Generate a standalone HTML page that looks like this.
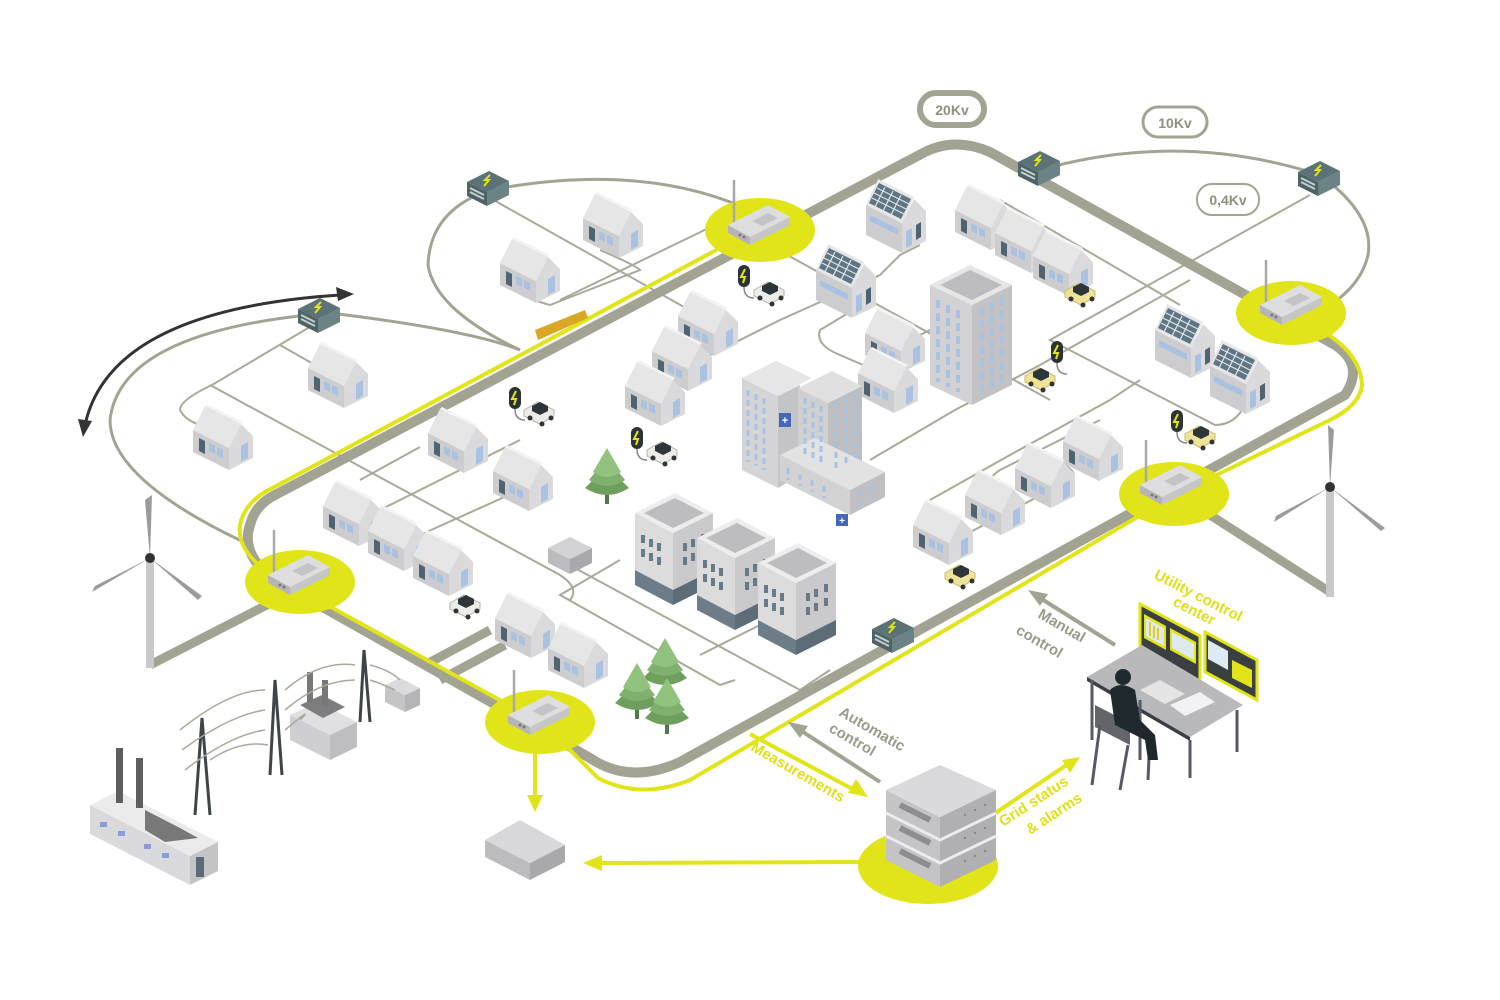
<!DOCTYPE html>
<html><head><meta charset="utf-8"><style>
html,body{margin:0;padding:0;background:#fff;}
svg{display:block;font-family:"Liberation Sans",sans-serif;}
</style></head><body>
<svg width="1500" height="1000" viewBox="0 0 1500 1000" xmlns="http://www.w3.org/2000/svg">
<defs>
<symbol id="house" overflow="visible">
 <polygon points="0,28 36,46 36,68 0,50" fill="#cdcdcf"/>
 <polygon points="36,46 48,22 60,34 60,56 36,68" fill="#dadadc"/>
 <polygon points="0,28 12,4 48,22 36,46" fill="#e6e6e7"/>
 <polygon points="48,22 12,4 14,2 50,20" fill="#f3f3f3"/>
 <polygon points="6,36 12,39 12,52 6,49" fill="#4f6470"/>
 <polygon points="16,41 22,44 22,52 16,49" fill="#a9c2e2"/>
 <polygon points="24,45 30,48 30,56 24,53" fill="#a9c2e2"/>
 <polygon points="48,44 55,40 55,56 48,60" fill="#a9c2e2"/>
</symbol>
<symbol id="solar" overflow="visible">
 <polygon points="0,30 36,48 36,78 0,60" fill="#cdcdcf"/>
 <polygon points="36,48 48,24 60,36 60,66 36,78" fill="#dadadc"/>
 <polygon points="0,30 12,4 48,22 36,48" fill="#e6e6e7"/>
 <polygon points="3,28 13,8 45,24 35,44" fill="#5f7583"/>
 <path d="M8,18 L40,34 M6,23 L38,39 M11,13 L43,29 M19,12 L9,32 M27,16 L17,36 M35,20 L25,40" stroke="#dfe6ea" stroke-width="1.2"/>
 <polygon points="4,40 32,54 32,60 4,46" fill="#a9c2e2"/>
 <polygon points="40,56 46,53 46,70 40,73" fill="#a9c2e2"/>
 <polygon points="50,50 55,47 55,62 50,65" fill="#4f6470"/>
</symbol>
<symbol id="router" overflow="visible">
 <line x1="-24" y1="0" x2="-24" y2="-45" stroke="#a8a8a8" stroke-width="2.5"/>
 <polygon points="-30,0 -8,12 -8,20 -30,8" fill="#b5b5b7"/>
 <polygon points="-8,12 32,-8 32,0 -8,20" fill="#c6c6c8"/>
 <polygon points="-30,0 10,-20 32,-8 -8,12" fill="#dedee0"/>
 <polygon points="-6,-4 10,-12 20,-7 4,1" fill="#c4c4c6"/>
 <circle cx="-18" cy="10" r="1.5" fill="#777"/><circle cx="-14" cy="12" r="1.5" fill="#777"/>
</symbol>
<symbol id="trans" overflow="visible">
 <polygon points="-20,-6 0,4 0,18 -20,8" fill="#4d6366"/>
 <polygon points="0,4 22,-7 22,7 0,18" fill="#6c8386"/>
 <polygon points="-20,-6 2,-17 22,-7 0,4" fill="#5b7276"/>
 <path d="M3,-13 L-2,-8 L2,-8 L-3,-2" stroke="#e2e41a" stroke-width="2" fill="none"/>
 <path d="M-17,0 L-3,7 M-17,4 L-3,11" stroke="#c5cfd0" stroke-width="2"/>
</symbol>
<symbol id="car" overflow="visible">
 <polygon points="0,8 14,0 30,8 30,14 16,22 0,14" fill="#ecece8" stroke="#b5b5b0" stroke-width="1"/>
 <polygon points="8,4 16,0 24,4 24,9 16,13 8,9" fill="#2d3538"/>
 <circle cx="6" cy="16" r="2.5" fill="#333"/><circle cx="18" cy="22" r="2.5" fill="#333"/><circle cx="27" cy="16" r="2.5" fill="#333"/>
</symbol>
<symbol id="ycar" overflow="visible">
 <polygon points="0,8 14,0 30,8 30,14 16,22 0,14" fill="#efe39a" stroke="#c9bc70" stroke-width="1"/>
 <polygon points="8,4 16,0 24,4 24,9 16,13 8,9" fill="#2d3538"/>
 <circle cx="6" cy="16" r="2.5" fill="#333"/><circle cx="18" cy="22" r="2.5" fill="#333"/><circle cx="27" cy="16" r="2.5" fill="#333"/>
</symbol>
<symbol id="plug" overflow="visible">
 <rect x="-6" y="-11" width="12" height="22" rx="6" fill="#2b3336"/>
 <path d="M1,-7 L-3,1 L1,1 L-1,7" stroke="#e2e41a" stroke-width="2" fill="none"/>
 <path d="M0,11 Q0,22 10,22" stroke="#888" stroke-width="1.5" fill="none"/>
</symbol>
<symbol id="tree" overflow="visible">
 <rect x="-2" y="20" width="4" height="14" fill="#4d7a45"/>
 <path d="M-22,18 Q0,32 22,18 L12,8 Q0,14 -12,8 Z" fill="#6e9f5f"/>
 <path d="M-18,10 Q0,22 18,10 L10,0 Q0,6 -10,0 Z" fill="#7fb06d"/>
 <path d="M-14,2 Q0,12 14,2 L0,-22 Z" fill="#91c27e"/>
</symbol>
<symbol id="office" overflow="visible">
 <polygon points="0,18 38,38 38,95 0,75" fill="#dcdcdd"/>
 <polygon points="38,38 78,18 78,75 38,95" fill="#cacacc"/>
 <polygon points="0,75 38,95 38,110 0,90" fill="#6c7d89"/>
 <polygon points="38,95 78,75 78,90 38,110" fill="#5d6d78"/>
 <polygon points="0,18 40,-2 78,18 38,38" fill="#ededee"/>
 <polygon points="9,18 40,3 69,18 38,33" fill="#bdbdbf"/>
 <g fill="#667a88">
 <rect x="6" y="40" width="4" height="8"/><rect x="14" y="44" width="4" height="8"/><rect x="22" y="48" width="4" height="8"/>
 <rect x="6" y="54" width="4" height="8"/><rect x="14" y="58" width="4" height="8"/><rect x="22" y="62" width="4" height="8"/>
 <rect x="48" y="48" width="4" height="8"/><rect x="56" y="44" width="4" height="8"/><rect x="66" y="39" width="4" height="8"/>
 <rect x="48" y="62" width="4" height="8"/><rect x="56" y="58" width="4" height="8"/><rect x="66" y="53" width="4" height="8"/>
 </g>
</symbol>
</defs>

<!-- thin grey loops -->
<g fill="none" stroke="#a3a393" stroke-width="3">
 <path d="M330,313 Q120,330 110,420 Q110,480 250,545"/>
 <path d="M490,190 Q430,210 428,265 Q435,310 520,350"/>
 <path d="M490,190 Q650,160 760,215"/>
 <path d="M1040,170 Q1180,130 1320,175 Q1375,215 1368,255 Q1360,290 1318,312"/>
 <path d="M520,350 Q470,330 330,313"/>
</g>
<!-- distribution thin lines -->
<g fill="none" stroke="#a9a99b" stroke-width="2">
 <path d="M330,315 L212,385 Q180,400 180,410 Q185,420 200,425"/>
 <path d="M210,385 L560,575 Q580,588 570,600"/>
 <path d="M280,345 L315,365"/>
 <path d="M490,198 L700,316"/>
 <path d="M600,250 Q635,265 640,270 L550,305 Q530,300 520,290"/>
 <path d="M715,225 L560,300"/>
 <path d="M760,240 L960,350 L1050,400"/>
 <path d="M920,245 L900,255 Q885,270 880,275 L780,320 L680,370"/>
 <path d="M1000,200 L1180,305"/>
 <path d="M1310,195 L1050,340 L1215,425 Q1235,425 1245,405"/>
 <path d="M870,300 L820,330 Q815,345 840,355 L870,368"/>
 <path d="M1190,280 L1040,365 L955,410 L870,460"/>
 <path d="M1100,420 L1000,470 Q985,480 1000,480"/>
 <path d="M360,480 L420,447 M380,510 L520,440 M420,535 L520,490"/>
 <path d="M560,560 L800,690 L830,670"/>
 <path d="M620,560 L560,595 L720,685 L735,680"/>
 <path d="M760,625 L700,655"/>
 <path d="M640,560 L700,530 M690,585 L760,550"/>
 <path d="M955,540 L1070,480 Q1080,475 1065,465"/>
 <path d="M930,500 L1010,455 L1110,400 L1140,380"/>
 <path d="M700,330 L680,340 M880,355 L940,325"/>
</g>

<!-- thick turbine feeders -->
<g stroke="#a3a393" stroke-width="9" fill="none">
 <path d="M150,665 L300,588"/>
 <path d="M1210,515 L1330,592"/>
 <path d="M425,665 L490,630 M440,680 L505,645"/>
</g>

<!-- main grey road -->
<path d="M275,495 L925,152 Q955,137 990,152 L1335,345 Q1365,365 1345,395 L680,762 Q630,785 590,758 L275,580 Q240,555 250,525 Q255,505 275,495 Z" fill="none" stroke="#a3a393" stroke-width="10"/>

<!-- yellow lines -->
<g fill="none" stroke="#e2e41a" stroke-width="4">
 <path d="M300,590 Q235,560 240,525 Q244,505 265,492 L735,240"/>
 <path d="M1300,320 Q1360,345 1362,385 Q1360,405 1330,420 L1175,495"/>
 <path d="M1175,495 L690,780 Q640,800 598,778 L545,725 L300,590"/>
 <path d="M750,734 L858,792"/>
 <path d="M535,735 L535,800"/>
 <path d="M860,862 L600,863"/>
 <path d="M985,820 L1068,764"/>
</g>
<polygon points="535,330 585,310 588,318 538,340" fill="#dba726"/>
<g fill="#e2e41a">
 <polygon points="535,812 527,795 543,795"/>
 <polygon points="583,863 602,855 602,871"/>
 <polygon points="868,797 848,793 856,779"/>
 <polygon points="1080,757 1070,773 1062,760"/>
</g>
<!-- grey arrows -->
<g stroke="#a3a393" stroke-width="4" fill="#a3a393">
 <path d="M880,782 L800,730"/>
 <polygon points="788,722 808,726 800,738" stroke="none"/>
 <path d="M1115,645 L1040,598"/>
 <polygon points="1028,590 1048,594 1040,606" stroke="none"/>
</g>
<!-- black arrow -->
<path d="M85,425 Q110,310 340,295" fill="none" stroke="#333" stroke-width="3"/>
<polygon points="354,294 336,287 338,301" fill="#333"/>
<polygon points="83,437 78,419 92,421" fill="#333"/>

<!-- yellow node circles -->
<g fill="#e2e41a">
 <ellipse cx="760" cy="230" rx="55" ry="32"/>
 <ellipse cx="1291" cy="313" rx="55" ry="32"/>
 <ellipse cx="1174" cy="494" rx="55" ry="32"/>
 <ellipse cx="300" cy="582" rx="55" ry="32"/>
 <ellipse cx="540" cy="722" rx="55" ry="32"/>
 <ellipse cx="928" cy="866" rx="70" ry="38"/>
</g>
<use href="#router" x="758" y="225"/>
<use href="#router" x="1290" y="305"/>
<use href="#router" x="1170" y="485"/>
<use href="#router" x="298" y="575"/>
<use href="#router" x="538" y="715"/>

<!-- transformers -->
<use href="#trans" x="487" y="188"/>
<use href="#trans" x="318" y="315"/>
<use href="#trans" x="1038" y="168"/>
<use href="#trans" x="1318" y="178"/>
<use href="#trans" x="892" y="635"/>

<!-- houses -->
<use href="#house" x="583" y="190"/>
<use href="#house" x="500" y="235"/>
<use href="#house" x="308" y="340"/>
<use href="#house" x="193" y="402"/>
<use href="#house" x="428" y="405"/>
<use href="#house" x="493" y="443"/>
<use href="#house" x="323" y="478"/>
<use href="#house" x="368" y="503"/>
<use href="#house" x="413" y="528"/>
<use href="#house" x="495" y="590"/>
<use href="#house" x="548" y="620"/>
<use href="#house" x="678" y="288"/>
<use href="#house" x="652" y="323"/>
<use href="#house" x="625" y="358"/>
<use href="#house" x="955" y="182"/>
<use href="#house" x="995" y="205"/>
<use href="#house" x="1033" y="228"/>
<use href="#house" x="865" y="305"/>
<use href="#house" x="858" y="345"/>
<use href="#house" x="1063" y="413"/>
<use href="#house" x="1015" y="440"/>
<use href="#house" x="965" y="467"/>
<use href="#house" x="913" y="497"/>
<use href="#solar" x="866" y="175"/>
<use href="#solar" x="816" y="240"/>
<use href="#solar" x="1155" y="300"/>
<use href="#solar" x="1210" y="336"/>

<!-- tall building -->
<polygon points="930,285 972,305 972,405 930,385" fill="#d2d2d4"/>
<polygon points="972,305 1012,285 1012,385 972,405" fill="#c2c2c4"/>
<polygon points="930,285 970,265 1012,285 972,305" fill="#e6e6e7"/>
<polygon points="940,285 970,270 1002,285 972,300" fill="#bdbdbf"/>
<g stroke="#a9c2e2" stroke-width="4" stroke-dasharray="8 5">
 <path d="M938,300 V382 M948,305 V387 M958,310 V392"/>
 <path d="M982,307 V392 M992,302 V387 M1002,297 V382"/>
</g>

<!-- hospital -->
<polygon points="742,378 778,396 778,488 742,470" fill="#d4d4d6"/>
<polygon points="778,396 800,385 800,475 778,488" fill="#c4c4c6"/>
<polygon points="742,378 776,361 812,378 778,396" fill="#e6e6e7"/>
<polygon points="798,388 828,403 828,478 798,463" fill="#d0d0d2"/>
<polygon points="828,403 862,386 862,461 828,478" fill="#bebec0"/>
<polygon points="798,388 832,371 862,386 828,403" fill="#e0e0e1"/>
<polygon points="780,455 850,490 850,515 780,480" fill="#d2d2d4"/>
<polygon points="850,490 885,472 885,497 850,515" fill="#c0c0c2"/>
<polygon points="780,455 815,438 885,472 850,490" fill="#e2e2e3"/>
<g stroke="#a9c2e2" stroke-width="3" stroke-dasharray="6 4">
 <path d="M748,390 V462 M756,394 V466 M764,398 V470"/>
 <path d="M805,398 V458 M813,402 V462 M821,406 V466"/>
 <path d="M836,402 V470 M846,397 V465 M856,392 V460"/>
 <path d="M788,468 V480 M800,474 V486 M812,480 V492 M824,486 V498 M860,490 V504 M872,484 V498"/>
</g>
<rect x="779" y="413" width="12" height="14" fill="#4667b8"/>
<text x="785" y="424" font-size="11" fill="#fff" text-anchor="middle" font-weight="bold">+</text>
<rect x="836" y="514" width="12" height="12" fill="#4667b8"/>
<text x="842" y="524" font-size="10" fill="#fff" text-anchor="middle" font-weight="bold">+</text>

<!-- offices -->
<use href="#office" x="635" y="495"/>
<use href="#office" x="697" y="520"/>
<use href="#office" x="758" y="545"/>

<!-- trees -->
<use href="#tree" x="607" y="470"/>
<use href="#tree" x="665" y="660"/>
<use href="#tree" x="637" y="685"/>
<use href="#tree" x="667" y="700"/>

<!-- cars & plugs -->
<use href="#plug" x="744" y="276"/><use href="#car" x="754" y="282"/>
<use href="#plug" x="515" y="398"/><use href="#car" x="524" y="402"/>
<use href="#plug" x="637" y="438"/><use href="#car" x="647" y="442"/>
<use href="#car" x="450" y="595"/>
<use href="#plug" x="1057" y="352"/><use href="#ycar" x="1025" y="368"/>
<use href="#ycar" x="1065" y="283"/>
<use href="#plug" x="1177" y="421"/><use href="#ycar" x="1185" y="426"/>
<use href="#ycar" x="945" y="565"/>

<!-- small boxes -->
<polygon points="548,548 570,559 570,574 548,563" fill="#bcbcbe"/>
<polygon points="570,559 592,548 592,563 570,574" fill="#a9a9ab"/>
<polygon points="548,548 570,537 592,548 570,559" fill="#d3d3d5"/>
<polygon points="485,840 530,863 530,880 485,857" fill="#bcbcbe"/>
<polygon points="530,863 565,845 565,862 530,880" fill="#a9a9ab"/>
<polygon points="485,840 520,820 565,845 530,863" fill="#d8d8da"/>

<!-- server -->
<polygon points="886,790 940,817 940,887 886,860" fill="#c4c4c6"/>
<polygon points="940,817 996,790 996,860 940,887" fill="#b0b0b2"/>
<polygon points="886,790 940,765 996,790 940,817" fill="#dadadc"/>
<path d="M886,813 L940,840 L996,813 M886,836 L940,863 L996,836" stroke="#ececec" stroke-width="3" fill="none"/>
<path d="M900,805 L930,820 M900,828 L930,843 M900,851 L930,866" stroke="#8d8d8f" stroke-width="6"/>
<g fill="#888" ><circle cx="965" cy="815" r="1.2"/><circle cx="975" cy="810" r="1.2"/><circle cx="985" cy="805" r="1.2"/><circle cx="965" cy="838" r="1.2"/><circle cx="975" cy="833" r="1.2"/><circle cx="985" cy="828" r="1.2"/><circle cx="965" cy="861" r="1.2"/><circle cx="975" cy="856" r="1.2"/><circle cx="985" cy="851" r="1.2"/></g>

<!-- wind turbines -->
<g>
 <rect x="146" y="560" width="8" height="108" fill="#c9c9cb"/>
 <path d="M150,558 L145,500 L152,495 Z" fill="#9b9b9d"/>
 <path d="M150,558 L92,592 L95,586 Z" fill="#9b9b9d"/>
 <path d="M150,558 L202,596 L198,600 Z" fill="#9b9b9d"/>
 <circle cx="150" cy="558" r="5" fill="#333"/>
 <rect x="1326" y="487" width="8" height="110" fill="#c9c9cb"/>
 <path d="M1330,487 L1328,425 L1334,430 Z" fill="#9b9b9d"/>
 <path d="M1330,487 L1274,522 L1276,516 Z" fill="#9b9b9d"/>
 <path d="M1330,487 L1385,528 L1381,531 Z" fill="#9b9b9d"/>
 <circle cx="1330" cy="487" r="5" fill="#333"/>
</g>

<!-- power plant & pylons -->
<g>
 <polygon points="385,685 405,695 405,712 385,702" fill="#c5c5c7"/>
 <polygon points="405,695 420,688 420,705 405,712" fill="#b5b5b7"/>
 <polygon points="385,685 400,678 420,688 405,695" fill="#dcdcde"/>
 <polygon points="290,715 330,735 330,760 290,740" fill="#cfcfd1"/>
 <polygon points="330,735 357,722 357,747 330,760" fill="#bebec0"/>
 <polygon points="290,715 318,702 357,722 330,735" fill="#e0e0e2"/>
 <polygon points="300,705 322,695 345,707 323,718" fill="#7d7d7f"/>
 <rect x="307" y="672" width="6" height="30" fill="#777"/><rect x="322" y="680" width="6" height="26" fill="#777"/>
 <polygon points="90,805 190,856 190,885 90,834" fill="#dadadc"/>
 <polygon points="190,856 218,842 218,871 190,885" fill="#c4c4c6"/>
 <polygon points="90,805 118,791 218,842 190,856" fill="#ebebec"/>
 <polygon points="145,810 180,828 198,838 165,842 145,830" fill="#787879"/>
 <rect x="116" y="748" width="7" height="55" fill="#5e5e60"/><rect x="136" y="758" width="7" height="50" fill="#5e5e60"/>
 <g fill="#8d9bd6"><rect x="100" y="822" width="7" height="5"/><rect x="118" y="831" width="7" height="5"/><rect x="144" y="844" width="7" height="5"/><rect x="162" y="853" width="7" height="5"/></g>
 <rect x="196" y="857" width="8" height="20" fill="#5a6a78"/>
 <g stroke="#3f4547" stroke-width="3" fill="none">
  <path d="M195,815 L202,718 L210,815 M270,775 L275,680 L282,775 M360,722 L364,650 L370,722"/>
 </g>
 <g stroke="#a9a99b" stroke-width="1.5" fill="none">
  <path d="M180,730 Q230,690 265,690 M182,750 Q230,715 265,710 M185,770 Q230,735 265,730 M210,760 Q240,740 268,745"/>
  <path d="M285,690 Q320,660 355,665 M285,710 Q320,680 355,680 M285,730 Q315,705 300,720"/>
  <path d="M370,665 Q390,670 400,680 M370,680 Q385,685 395,690"/>
 </g>
</g>

<!-- control center -->
<g>
 <polygon points="1140,604 1200,636 1200,690 1140,658" fill="#3a4042" stroke="#e2e41a" stroke-width="3"/>
 <polygon points="1144,614 1166,626 1166,650 1144,638" fill="#e2e41a"/>
 <polygon points="1146,618 1164,628 1164,646 1146,636" fill="#dfe9f2"/>
 <path d="M1150,622 V636 M1154,626 V638 M1158,628 V640" stroke="#e2d01a" stroke-width="2"/>
 <polygon points="1170,628 1196,642 1196,664 1170,650" fill="#e2e41a"/>
 <polygon points="1172,632 1194,644 1194,660 1172,648" fill="#dfe9f2"/>
 <polygon points="1205,632 1257,660 1257,700 1205,672" fill="#3a4042" stroke="#e2e41a" stroke-width="3"/>
 <polygon points="1208,640 1228,651 1228,670 1208,659" fill="#dfe9f2"/>
 <polygon points="1232,660 1252,670 1252,688 1232,678" fill="#e2e41a"/>
 <rect x="1168" y="680" width="4" height="12" fill="#3a4042"/>
 <polygon points="1087,677 1142,645 1243,705 1190,737" fill="#b9b9bb"/>
 <polygon points="1087,677 1190,737 1190,741 1087,681" fill="#3a3d44"/>
 <path d="M1092,680 V740 M1190,740 V778 M1237,710 V752 M1140,700 V760" stroke="#555a66" stroke-width="3"/>
 <polygon points="1140,690 1160,680 1185,694 1165,704" fill="#e5e5e5"/>
 <polygon points="1170,705 1200,692 1215,702 1185,716" fill="#f2f2f2"/>
 <polygon points="1095,705 1130,723 1130,745 1095,727" fill="#62666a"/>
 <path d="M1100,725 L1092,785 M1128,745 L1120,790 M1150,735 L1148,780" stroke="#555a66" stroke-width="3"/>
 <circle cx="1123" cy="677" r="8" fill="#1e2a30"/>
 <path d="M1110,690 Q1120,680 1135,690 L1140,720 L1155,735 L1158,760 L1148,760 L1145,740 L1115,725 Z" fill="#1f292d"/>
</g>

<!-- labels -->
<rect x="920" y="93" width="64" height="32" rx="16" fill="#fff" stroke="#a3a393" stroke-width="6"/>
<text x="952" y="115" font-size="14" font-weight="bold" fill="#8f8f80" text-anchor="middle">20Kv</text>
<rect x="1143" y="107" width="64" height="30" rx="15" fill="#fff" stroke="#a3a393" stroke-width="3"/>
<text x="1175" y="128" font-size="14" font-weight="bold" fill="#8f8f80" text-anchor="middle">10Kv</text>
<rect x="1197" y="184" width="62" height="31" rx="15" fill="#fff" stroke="#a3a393" stroke-width="2"/>
<text x="1228" y="205" font-size="14" font-weight="bold" fill="#8f8f80" text-anchor="middle">0,4Kv</text>

<g font-size="15" font-weight="bold">
 <text transform="translate(1153,578) rotate(27)" fill="#dfe01a">Utility control</text>
 <text transform="translate(1172,605) rotate(27)" fill="#dfe01a">center</text>
 <text transform="translate(1037,617) rotate(30)" fill="#9b9b8c">Manual</text>
 <text transform="translate(1015,633) rotate(30)" fill="#9b9b8c">control</text>
 <text transform="translate(838,715) rotate(30)" fill="#9b9b8c">Automatic</text>
 <text transform="translate(828,731) rotate(30)" fill="#9b9b8c">control</text>
 <text transform="translate(750,750) rotate(30)" fill="#dfe01a">Measurements</text>
 <text transform="translate(1003,827) rotate(-33)" fill="#dfe01a">Grid status</text>
 <text transform="translate(1030,835) rotate(-33)" fill="#dfe01a">&amp; alarms</text>
</g>
</svg>
</body></html>
